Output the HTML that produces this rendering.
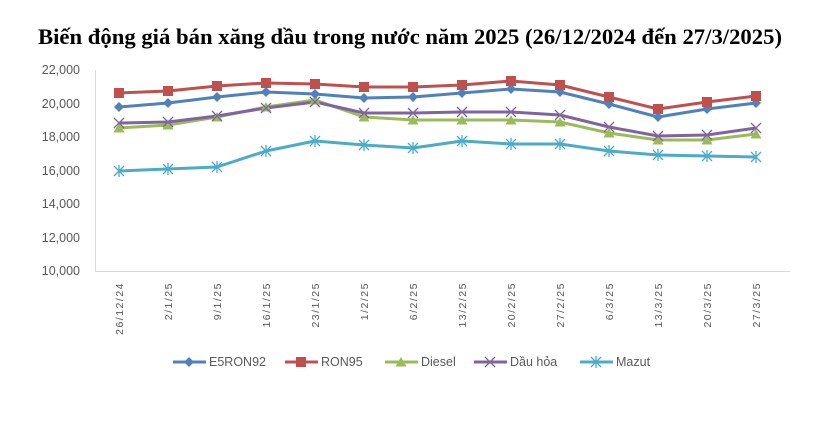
<!DOCTYPE html>
<html><head><meta charset="utf-8"><style>
body{margin:0;background:#fff;width:826px;height:420px;overflow:hidden}
</style></head><body>
<svg width="826" height="420" xmlns="http://www.w3.org/2000/svg" font-family="Liberation Sans, sans-serif">
<text x="38" y="44" textLength="744" lengthAdjust="spacingAndGlyphs" font-family="Liberation Serif, serif" font-weight="bold" font-size="22" fill="#000">Biến động giá bán xăng dầu trong nước năm 2025 (26/12/2024 đến 27/3/2025)</text>
<g font-size="12.5" fill="#595959" text-anchor="end">
<text x="80" y="74">22,000</text><text x="80" y="108">20,000</text><text x="80" y="141">18,000</text>
<text x="80" y="175">16,000</text><text x="80" y="208">14,000</text><text x="80" y="242">12,000</text><text x="80" y="275">10,000</text>
</g>
<line x1="95.5" y1="70" x2="95.5" y2="271.5" stroke="#d9d9d9"/>
<line x1="95" y1="271.5" x2="790" y2="271.5" stroke="#d9d9d9"/>
<g font-size="10.5" fill="#595959" letter-spacing="1.5" text-anchor="end">
<text transform="translate(123,282) rotate(-90)">26/12/24</text>
<text transform="translate(172,282) rotate(-90)">2/1/25</text>
<text transform="translate(221,282) rotate(-90)">9/1/25</text>
<text transform="translate(270,282) rotate(-90)">16/1/25</text>
<text transform="translate(319,282) rotate(-90)">23/1/25</text>
<text transform="translate(368,282) rotate(-90)">1/2/25</text>
<text transform="translate(417,282) rotate(-90)">6/2/25</text>
<text transform="translate(466,282) rotate(-90)">13/2/25</text>
<text transform="translate(515,282) rotate(-90)">20/2/25</text>
<text transform="translate(564,282) rotate(-90)">27/2/25</text>
<text transform="translate(613,282) rotate(-90)">6/3/25</text>
<text transform="translate(662,282) rotate(-90)">13/3/25</text>
<text transform="translate(711,282) rotate(-90)">20/3/25</text>
<text transform="translate(760,282) rotate(-90)">27/3/25</text>
</g>
<defs>
<path id="dia" d="M0,-5 L5,0 L0,5 L-5,0Z" fill="#4f81bd"/>
<rect id="sq" x="-5" y="-5" width="10" height="10" fill="#c0504d"/>
<path id="tri" d="M0,-5 L5.5,4.5 L-5.5,4.5Z" fill="#9bbb59"/>
<path id="x" d="M-5,-5 L5,5 M-5,5 L5,-5" stroke="#8064a2" stroke-width="1.3"/>
<path id="ast" d="M-5,-5 L5,5 M-5,5 L5,-5 M0,-6 L0,6" stroke="#4bacc6" stroke-width="1.3"/>
</defs>
<g fill="none" stroke-width="3" stroke-linejoin="round">
<polyline stroke="#4bacc6" points="119,171 168,169 217,167 266,151 315,141 364,145 413,148 462,141 511,144 560,144 609,151 658,155 707,156 756,157"/>
<polyline stroke="#9bbb59" points="119,128 168,125 217,117 266,107 315,100 364,117 413,120 462,120 511,120 560,122 609,133 658,140 707,140 756,134"/>
<polyline stroke="#8064a2" points="119,123 168,122 217,116 266,108 315,102 364,113 413,113 462,112 511,112 560,115 609,127 658,136 707,135 756,128"/>
<polyline stroke="#4f81bd" points="119,107 168,103 217,97 266,92 315,94 364,98 413,97 462,93 511,89 560,92 609,104 658,117 707,109 756,103"/>
<polyline stroke="#c0504d" points="119,93 168,91 217,86 266,83 315,84 364,87 413,87 462,85 511,81 560,85 609,97 658,109 707,102 756,96"/>
</g>
<g>
<use href="#ast" x="119" y="171"/><use href="#ast" x="168" y="169"/><use href="#ast" x="217" y="167"/><use href="#ast" x="266" y="151"/><use href="#ast" x="315" y="141"/><use href="#ast" x="364" y="145"/><use href="#ast" x="413" y="148"/><use href="#ast" x="462" y="141"/><use href="#ast" x="511" y="144"/><use href="#ast" x="560" y="144"/><use href="#ast" x="609" y="151"/><use href="#ast" x="658" y="155"/><use href="#ast" x="707" y="156"/><use href="#ast" x="756" y="157"/>
<use href="#tri" x="119" y="128"/><use href="#tri" x="168" y="125"/><use href="#tri" x="217" y="117"/><use href="#tri" x="266" y="107"/><use href="#tri" x="315" y="100"/><use href="#tri" x="364" y="117"/><use href="#tri" x="413" y="120"/><use href="#tri" x="462" y="120"/><use href="#tri" x="511" y="120"/><use href="#tri" x="560" y="122"/><use href="#tri" x="609" y="133"/><use href="#tri" x="658" y="140"/><use href="#tri" x="707" y="140"/><use href="#tri" x="756" y="134"/>
<use href="#x" x="119" y="123"/><use href="#x" x="168" y="122"/><use href="#x" x="217" y="116"/><use href="#x" x="266" y="108"/><use href="#x" x="315" y="102"/><use href="#x" x="364" y="113"/><use href="#x" x="413" y="113"/><use href="#x" x="462" y="112"/><use href="#x" x="511" y="112"/><use href="#x" x="560" y="115"/><use href="#x" x="609" y="127"/><use href="#x" x="658" y="136"/><use href="#x" x="707" y="135"/><use href="#x" x="756" y="128"/>
<use href="#dia" x="119" y="107"/><use href="#dia" x="168" y="103"/><use href="#dia" x="217" y="97"/><use href="#dia" x="266" y="92"/><use href="#dia" x="315" y="94"/><use href="#dia" x="364" y="98"/><use href="#dia" x="413" y="97"/><use href="#dia" x="462" y="93"/><use href="#dia" x="511" y="89"/><use href="#dia" x="560" y="92"/><use href="#dia" x="609" y="104"/><use href="#dia" x="658" y="117"/><use href="#dia" x="707" y="109"/><use href="#dia" x="756" y="103"/>
<use href="#sq" x="119" y="93"/><use href="#sq" x="168" y="91"/><use href="#sq" x="217" y="86"/><use href="#sq" x="266" y="83"/><use href="#sq" x="315" y="84"/><use href="#sq" x="364" y="87"/><use href="#sq" x="413" y="87"/><use href="#sq" x="462" y="85"/><use href="#sq" x="511" y="81"/><use href="#sq" x="560" y="85"/><use href="#sq" x="609" y="97"/><use href="#sq" x="658" y="109"/><use href="#sq" x="707" y="102"/><use href="#sq" x="756" y="96"/>
</g>
<g stroke-width="3" font-size="12.5" fill="#595959">
<line x1="173" y1="362" x2="206" y2="362" stroke="#4f81bd"/><use href="#dia" x="189" y="362"/><text x="209" y="366">E5RON92</text>
<line x1="285" y1="362" x2="318" y2="362" stroke="#c0504d"/><use href="#sq" x="301" y="362"/><text x="321" y="366">RON95</text>
<line x1="385" y1="362" x2="418" y2="362" stroke="#9bbb59"/><use href="#tri" x="401" y="362"/><text x="421" y="366">Diesel</text>
<line x1="474" y1="362" x2="507" y2="362" stroke="#8064a2"/><use href="#x" x="490" y="362"/><text x="510" y="366">Dầu hỏa</text>
<line x1="580" y1="362" x2="613" y2="362" stroke="#4bacc6"/><use href="#ast" x="596" y="362"/><text x="616" y="366">Mazut</text>
</g>
</svg>
</body></html>
